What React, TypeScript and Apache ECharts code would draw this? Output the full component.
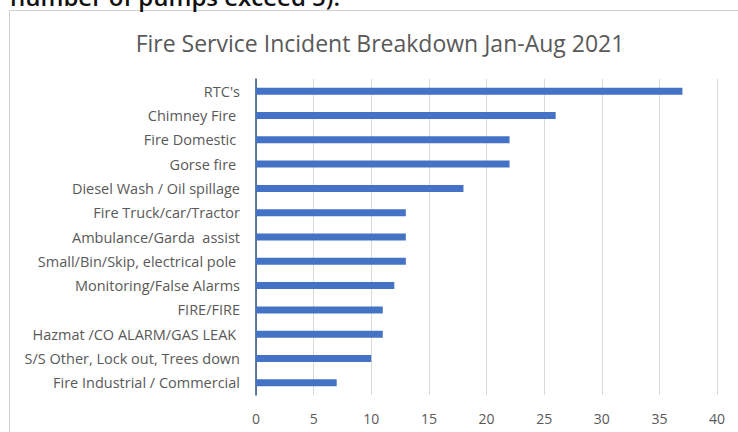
import React, { useEffect, useRef } from "react";
import * as echarts from "echarts";

const categories = [
  "RTC's",
  "Chimney Fire ",
  "Fire Domestic ",
  "Gorse fire ",
  "Diesel Wash / Oil spillage",
  "Fire Truck/car/Tractor",
  "Ambulance/Garda  assist",
  "Small/Bin/Skip, electrical pole ",
  "Monitoring/False Alarms",
  "FIRE/FIRE",
  "Hazmat /CO ALARM/GAS LEAK ",
  "S/S Other, Lock out, Trees down",
  "Fire Industrial / Commercial",
];
const values = [37, 26, 22, 22, 18, 13, 13, 13, 12, 11, 11, 10, 7];
const xTicks = { min: 0, max: 40, interval: 5 };
const titleText = "Fire Service Incident Breakdown Jan-Aug 2021";
const aboveText = "number of pumps exceed 5).";

export default function App() {
  const ref = useRef<HTMLDivElement>(null);
  useEffect(() => {
    if (!ref.current) return;
    const chart = echarts.init(ref.current, undefined, { renderer: "svg" });
    const font = "'Open Sans', 'Noto Sans', sans-serif";
    chart.setOption({
      animation: false,
      backgroundColor: "#ffffff",
      title: {
        text: titleText,
        left: 375,
        textAlign: "center",
        top: 26,
        textStyle: { fontFamily: font, fontSize: 23, fontWeight: "normal", color: "#595959" },
      },
      grid: { left: 256, right: 21, top: 79, bottom: 37, containLabel: false },
      xAxis: {
        type: "value",
        min: xTicks.min,
        max: xTicks.max,
        interval: xTicks.interval,
        axisLine: { show: false },
        axisTick: { show: false },
        axisLabel: { fontFamily: font, fontSize: 14, color: "#595959", margin: 16 },
        splitLine: { show: true, lineStyle: { color: "#d9d9d9", width: 1 } },
      },
      yAxis: {
        type: "category",
        data: categories,
        inverse: true,
        axisLine: { show: true, lineStyle: { color: "#2f4f7f", width: 1.5 } },
        axisTick: { show: false },
        axisLabel: { fontFamily: font, fontSize: 14.5, color: "#595959", margin: 16 },
        splitLine: { show: false },
      },
      series: [
        {
          type: "bar",
          data: values,
          barWidth: 7,
          itemStyle: { color: "#4472c4" },
        },
      ],
      graphic: [
        {
          type: "rect",
          shape: { x: 9.5, y: 10.5, width: 900, height: 600 },
          style: { fill: "none", stroke: "#d0d0d0", lineWidth: 1 },
          z: -1,
          silent: true,
        },
        {
          type: "text",
          x: 10,
          y: 8,
          style: {
            text: aboveText,
            fontFamily: font,
            fontSize: 24,
            fontWeight: 600,
            fill: "#111111",
            textVerticalAlign: "bottom",
          },
        },
      ],
    });
    return () => chart.dispose();
  }, []);
  return (
    <div
      ref={ref}
      style={{ position: "absolute", left: 0, top: 0, width: 738, height: 432 }}
    />
  );
}
